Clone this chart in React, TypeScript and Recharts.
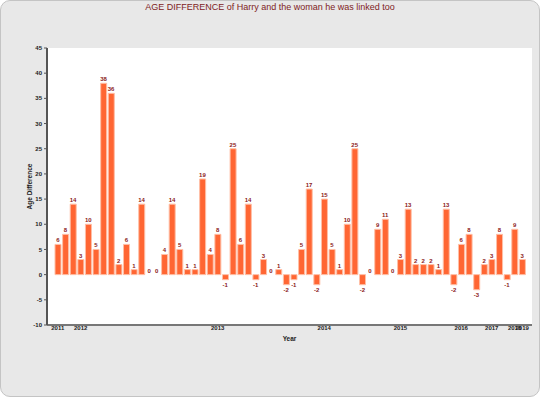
import {
  ComposedChart,
  Bar,
  Line,
  XAxis,
  YAxis,
  CartesianGrid,
  LabelList,
} from "recharts";

// age difference per relationship, in chronological order
const ageDiff = [
  6, 8, 14, 3, 10, 5, 38, 36, 2, 6, 1, 14, 0, 0, 4, 14, 5, 1, 1, 19, 4, 8, -1,
  25, 6, 14, -1, 3, 0, 1, -2, -1, 5, 17, -2, 15, 5, 1, 10, 25, -2, 0, 9, 11, 0,
  3, 13, 2, 2, 2, 1, 13, -2, 6, 8, -3, 2, 3, 8, -1, 9, 3,
];

// year of each bar (tick shown at the first bar of each year)
const years = [
  "2011", "2011", "2011",
  "2012", "2012", "2012", "2012", "2012", "2012", "2012", "2012", "2012",
  "2012", "2012", "2012", "2012", "2012", "2012", "2012", "2012", "2012",
  "2013", "2013", "2013", "2013", "2013", "2013", "2013", "2013", "2013",
  "2013", "2013", "2013", "2013", "2013",
  "2014", "2014", "2014", "2014", "2014", "2014", "2014", "2014", "2014", "2014",
  "2015", "2015", "2015", "2015", "2015", "2015", "2015", "2015",
  "2016", "2016", "2016", "2016",
  "2017", "2017", "2017",
  "2018",
  "2019",
];

const yTicks = [-10, -5, 0, 5, 10, 15, 20, 25, 30, 35, 40, 45];

const data = ageDiff.map((v, i) => ({ i, year: years[i], diff: v }));

const font = "'Liberation Sans', Arial, sans-serif";
const labelRed = "#8b1a1a";

function yearTick(i: number) {
  if (i === 0 || years[i] !== years[i - 1]) return years[i];
  return "";
}

// value labels drawn at the line points (bar tops), zero bars included
function BarValue(props: any) {
  const { x, y, value } = props;
  const ty = value >= 0 ? y - 2 : y + 7;
  return (
    <text
      x={x}
      y={ty}
      textAnchor="middle"
      fontSize={6}
      fontWeight="bold"
      fill={labelRed}
      fontFamily={font}
    >
      {value}
    </text>
  );
}

export default function App() {
  return (
    <div
      style={{
        position: "absolute",
        left: 0,
        top: 0,
        width: 538,
        height: 395,
        background: "#e8e8e8",
        border: "1px solid #c4c4c4",
        borderRadius: 10,
        overflow: "hidden",
      }}
    >
      <div
        style={{
          position: "absolute",
          top: 1,
          left: 0,
          width: 538,
          textAlign: "center",
          fontFamily: font,
          fontSize: 9,
          color: "#7f1d1d",
        }}
      >
        AGE DIFFERENCE of Harry and the woman he was linked too
      </div>
      <ComposedChart
        width={540}
        height={397}
        data={data}
        margin={{ top: 48, right: 8, bottom: 54, left: 0 }}
        barSize={6}
        style={{ position: "absolute", left: -1, top: -1 }}
      >
        <CartesianGrid
          xAxisId="b"
          yAxisId="l"
          fill="#ffffff"
          horizontal={false}
          vertical={false}
        />
        <XAxis
          xAxisId="b"
          dataKey="i"
          type="category"
          interval={0}
          tickFormatter={yearTick}
          padding={{ left: 7, right: 6 }}
          height={18}
          tickSize={0}
          tickMargin={1}
          tickLine={false}
          axisLine={{ stroke: "#777777", strokeWidth: 2 }}
          tick={{ fontSize: 6, fontWeight: "bold", fill: "#222", fontFamily: font }}
          label={{
            value: "Year",
            position: "insideBottom",
            offset: 2,
            fontSize: 6.5,
            fontWeight: "bold",
            fill: "#222",
            fontFamily: font,
          }}
        />
        <XAxis
          xAxisId="t"
          dataKey="i"
          orientation="top"
          height={0}
          tick={false}
          tickLine={false}
          axisLine={{ stroke: "#aaaaaa", strokeWidth: 2 }}
        />
        <YAxis
          yAxisId="l"
          domain={[-10, 45]}
          ticks={yTicks}
          interval={0}
          width={47}
          tickSize={3}
          tickLine={{ stroke: "#555" }}
          axisLine={{ stroke: "#555555", strokeWidth: 2 }}
          tick={{ fontSize: 6, fontWeight: "bold", fill: "#222", fontFamily: font }}
          label={{
            value: "Age Difference",
            angle: -90,
            position: "insideLeft",
            offset: 30,
            fontSize: 6.5,
            fontWeight: "bold",
            fill: "#222",
            fontFamily: font,
            style: { textAnchor: "middle" },
          }}
        />
        <YAxis
          yAxisId="r"
          orientation="right"
          domain={[-10, 45]}
          width={0}
          tick={false}
          tickLine={false}
          axisLine={{ stroke: "#666666", strokeWidth: 2 }}
        />
        <Bar
          xAxisId="b"
          yAxisId="l"
          dataKey="diff"
          fill="#ff6633"
          stroke="#ffbfa6"
          strokeWidth={1}
          isAnimationActive={false}
        />
        <Line
          xAxisId="b"
          yAxisId="l"
          dataKey="diff"
          stroke="none"
          dot={false}
          activeDot={false}
          legendType="none"
          isAnimationActive={false}
        >
          <LabelList dataKey="diff" content={<BarValue />} />
        </Line>
      </ComposedChart>
    </div>
  );
}
